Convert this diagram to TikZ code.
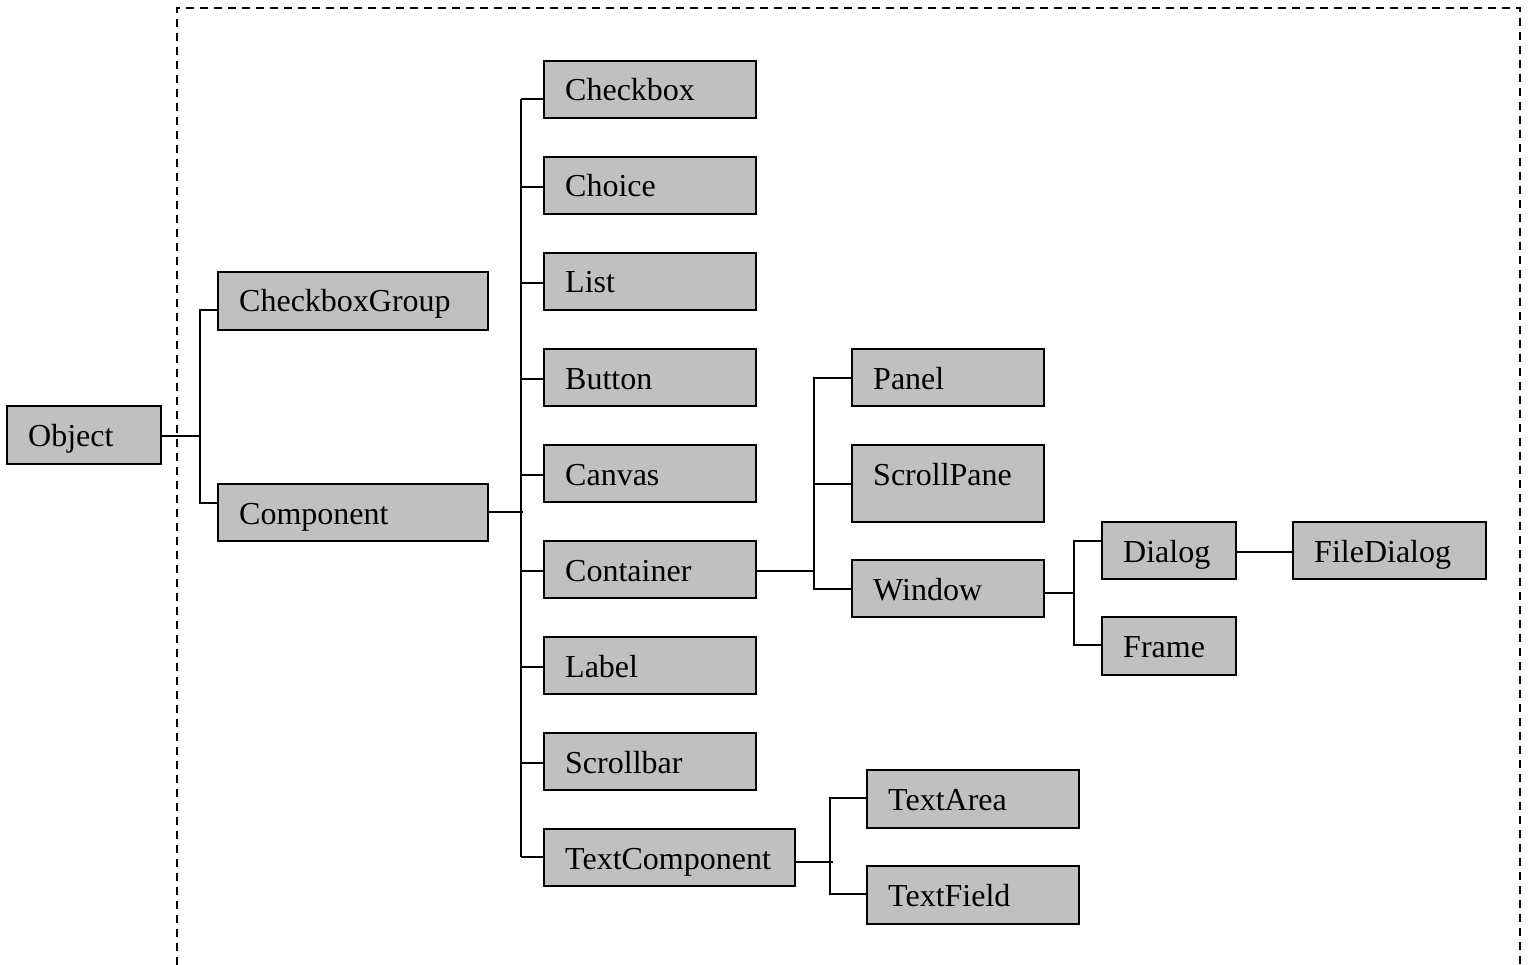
\documentclass[tikz,border=0pt]{standalone}
\usepackage{fontspec}
\setmainfont{Liberation Serif}
\begin{document}
\begin{tikzpicture}[x=1pt,y=-1pt,
  box/.style={draw=black,fill={rgb,255:red,192;green,192;blue,192},line width=1.6pt,inner sep=0pt,outer sep=0pt,anchor=north west},
  lbl/.style={anchor=base west,inner sep=0pt,font=\fontsize{32}{38}\selectfont},
  conn/.style={line width=1.5pt},
  frm/.style={line width=1.5pt,dash pattern=on 8pt off 6pt}]
\useasboundingbox (0,0) rectangle (1531,965);
\newcommand\bx[6]{%
  \node[box,minimum width={(#4-#2)*1pt},minimum height={(#5-#3)*1pt}] (#1) at (#2,#3) {};
  \node[lbl] (#1-t) at ([xshift=21pt,yshift=-40pt]#1.north west) {#6};}
% dashed frame
\draw[frm] (177,965) -- (177,8) -- (1520,8) -- (1520,965);
% boxes
\bx{object}{7}{406}{161}{464}{Object}
\bx{cbgroup}{218}{272}{488}{330}{CheckboxGroup}
\bx{component}{218}{484}{488}{541}{Component}
\bx{checkbox}{544}{61}{756}{118}{Checkbox}
\bx{choice}{544}{157}{756}{214}{Choice}
\bx{list}{544}{253}{756}{310}{List}
\bx{button}{544}{349}{756}{406}{Button}
\bx{canvas}{544}{445}{756}{502}{Canvas}
\bx{container}{544}{541}{756}{598}{Container}
\bx{label}{544}{637}{756}{694}{Label}
\bx{scrollbar}{544}{733}{756}{790}{Scrollbar}
\bx{textcomp}{544}{829}{795}{886}{TextComponent}
\bx{panel}{852}{349}{1044}{406}{Panel}
\bx{scrollpane}{852}{445}{1044}{522}{ScrollPane}
\bx{window}{852}{560}{1044}{617}{Window}
\bx{dialog}{1102}{522}{1236}{579}{Dialog}
\bx{frame}{1102}{617}{1236}{675}{Frame}
\bx{filedialog}{1293}{522}{1486}{579}{FileDialog}
\bx{textarea}{867}{770}{1079}{828}{TextArea}
\bx{textfield}{867}{866}{1079}{924}{TextField}
% Object tree
\coordinate (a0) at (200,436);
\coordinate (a1) at (200,310);
\coordinate (a2) at (200,503);
\draw[conn] (object.east |- a0) -- (a0);
\draw[conn] (cbgroup.west |- a1) -- (a1) -- (a2) -- (component.west |- a2);
% Component tree
\coordinate (b0) at (523,512);
\coordinate (btop) at (521,99);
\coordinate (bbot) at (521,857);
\draw[conn] (component.east |- b0) -- (b0);
\draw[conn] (btop) -- (bbot);
\foreach \n/\y in {checkbox/99,choice/187,list/283,button/379,canvas/475,container/571,label/667,scrollbar/763,textcomp/857}{
  \coordinate (bb) at (521,\y);
  \draw[conn] (bb) -- (\n.west |- bb);
}
% Container tree
\coordinate (c0) at (814,571);
\coordinate (c1) at (814,378);
\coordinate (c2) at (814,484);
\coordinate (c3) at (814,589);
\draw[conn] (container.east |- c0) -- (c0);
\draw[conn] (panel.west |- c1) -- (c1) -- (c3) -- (window.west |- c3);
\draw[conn] (c2) -- (scrollpane.west |- c2);
% Window tree
\coordinate (d0) at (1074,593);
\coordinate (d1) at (1074,541);
\coordinate (d2) at (1074,645);
\draw[conn] (window.east |- d0) -- (d0);
\draw[conn] (dialog.west |- d1) -- (d1) -- (d2) -- (frame.west |- d2);
\coordinate (f0) at (1260,552);
\draw[conn] (dialog.east |- f0) -- (filedialog.west |- f0);
% TextComponent tree
\coordinate (e0) at (833,862);
\coordinate (e1) at (830,798);
\coordinate (e2) at (830,894);
\draw[conn] (textcomp.east |- e0) -- (e0);
\draw[conn] (textarea.west |- e1) -- (e1) -- (e2) -- (textfield.west |- e2);
\end{tikzpicture}
\end{document}
